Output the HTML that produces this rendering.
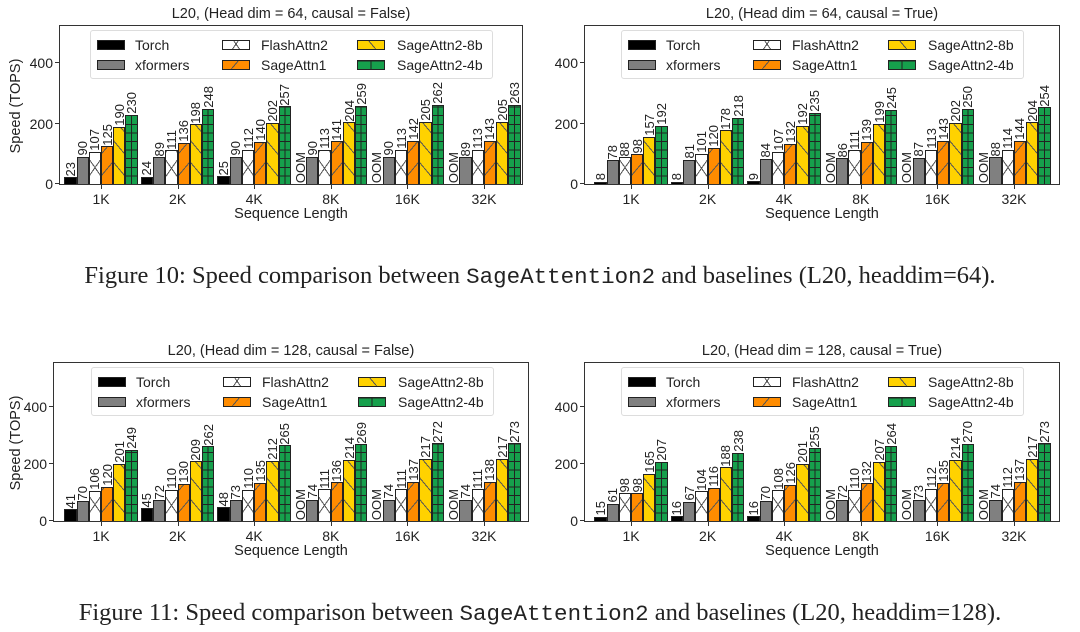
<!DOCTYPE html>
<html><head><meta charset="utf-8"><style>
body{margin:0;width:1080px;height:632px;background:#fff;position:relative;overflow:hidden;font-family:"Liberation Sans","DejaVu Sans",sans-serif;color:#222}
.ax{position:absolute;height:160px;border:1px solid #333;box-sizing:border-box}
.ttl{position:absolute;top:-20px;left:0;right:0;text-align:center;font-size:14.5px;white-space:nowrap}
.grp{position:absolute;bottom:0;display:flex;align-items:flex-end}
.g{width:73.4px;margin-right:3.2px;display:flex;align-items:flex-end;flex:none}
.b{width:12.23px;display:flex;flex-direction:column;align-items:center;justify-content:flex-end;flex:none}
.l{writing-mode:vertical-rl;transform:rotate(180deg);font-size:13px;line-height:13px;margin-bottom:1px;white-space:nowrap}
.bar{width:12.23px;box-sizing:border-box;border:1.4px solid #222;border-bottom:none}
.t0{background:#000}
.t1{background:#808080}
.t2{background:repeating-linear-gradient(55deg,transparent 0 13px,#555 13px 14px),repeating-linear-gradient(-55deg,transparent 0 13px,#555 13px 14px),#fff}
.t3{background:repeating-linear-gradient(-50deg,transparent 0 13px,#555 13px 14px),#ff8c00}
.t4{background:repeating-linear-gradient(50deg,transparent 0 13px,#555 13px 14px),#ffd200}
.t5{background:linear-gradient(90deg,transparent calc(50% - .6px),#222 calc(50% - .6px),#222 calc(50% + .6px),transparent calc(50% + .6px)),repeating-linear-gradient(0deg,transparent 0 7.6px,#222 7.6px 8.6px),#16a04c}
.lp.t2,.lp.t3,.lp.t4{background-size:auto}
.yt{position:absolute;left:-5px;width:5px;border-top:1px solid #333}
.ytl{position:absolute;right:calc(100% + 7px);font-size:14px;transform:translateY(50%);line-height:14px}
.xt{position:absolute;top:159px;height:4px;border-left:1px solid #333}
.xtl{position:absolute;top:165px;font-size:14px;transform:translateX(-50%);white-space:nowrap}
.xl{position:absolute;top:180px;left:0;right:0;text-align:center;font-size:14.5px}
.yl{position:absolute;top:72px;font-size:14.5px;transform:rotate(-90deg);transform-origin:center;white-space:nowrap;width:110px;text-align:center;line-height:16px}
.leg{position:absolute;top:4px;width:403px;height:49px;border:1px solid #ddd;border-radius:3px;background:rgba(255,255,255,.85);box-sizing:border-box}
.lp{position:absolute;width:28px;height:10px;box-sizing:border-box;border:1.4px solid #222}
.lt{position:absolute;font-size:14px;line-height:14px}
.cap{position:absolute;left:0;right:0;text-align:center;font-family:"Liberation Serif","DejaVu Serif",serif;font-size:24.5px;line-height:28px;color:#222;white-space:nowrap}
.cap code{font-family:"Liberation Mono",monospace;font-size:22.5px}
</style></head><body>

<!-- TL -->
<div class="ax" style="left:59px;top:25px;width:464px;--k:0.302px">
<div class="ttl">L20, (Head dim = 64, causal = False)</div>
<div class="yl" style="left:-99px">Speed (TOPS)</div>
<div class="yt" style="bottom:0"></div><div class="ytl" style="bottom:0">0</div>
<div class="yt" style="bottom:calc(var(--k)*200)"></div><div class="ytl" style="bottom:calc(var(--k)*200)">200</div>
<div class="yt" style="bottom:calc(var(--k)*400)"></div><div class="ytl" style="bottom:calc(var(--k)*400)">400</div>
<div class="leg" style="left:30px">
<div class="lp t0" style="left:6px;top:9px"></div><div class="lt" style="left:44px;top:7px">Torch</div>
<div class="lp t1" style="left:6px;top:29px"></div><div class="lt" style="left:44px;top:27px">xformers</div>
<div class="lp t2" style="left:131px;top:9px"></div><div class="lt" style="left:170px;top:7px">FlashAttn2</div>
<div class="lp t3" style="left:131px;top:29px"></div><div class="lt" style="left:170px;top:27px">SageAttn1</div>
<div class="lp t4" style="left:266px;top:9px"></div><div class="lt" style="left:306px;top:7px">SageAttn2-8b</div>
<div class="lp t5" style="left:266px;top:29px"></div><div class="lt" style="left:306px;top:27px">SageAttn2-4b</div>
</div>
<div class="grp" style="left:4.3px">
<div class="g"><div class="b"><span class="l">23</span><div class="bar t0" style="height:calc(var(--k)*23)"></div></div><div class="b"><span class="l">90</span><div class="bar t1" style="height:calc(var(--k)*90)"></div></div><div class="b"><span class="l">107</span><div class="bar t2" style="height:calc(var(--k)*107)"></div></div><div class="b"><span class="l">125</span><div class="bar t3" style="height:calc(var(--k)*125)"></div></div><div class="b"><span class="l">190</span><div class="bar t4" style="height:calc(var(--k)*190)"></div></div><div class="b"><span class="l">230</span><div class="bar t5" style="height:calc(var(--k)*230)"></div></div></div>
<div class="g"><div class="b"><span class="l">24</span><div class="bar t0" style="height:calc(var(--k)*24)"></div></div><div class="b"><span class="l">89</span><div class="bar t1" style="height:calc(var(--k)*89)"></div></div><div class="b"><span class="l">111</span><div class="bar t2" style="height:calc(var(--k)*111)"></div></div><div class="b"><span class="l">136</span><div class="bar t3" style="height:calc(var(--k)*136)"></div></div><div class="b"><span class="l">198</span><div class="bar t4" style="height:calc(var(--k)*198)"></div></div><div class="b"><span class="l">248</span><div class="bar t5" style="height:calc(var(--k)*248)"></div></div></div>
<div class="g"><div class="b"><span class="l">25</span><div class="bar t0" style="height:calc(var(--k)*25)"></div></div><div class="b"><span class="l">90</span><div class="bar t1" style="height:calc(var(--k)*90)"></div></div><div class="b"><span class="l">112</span><div class="bar t2" style="height:calc(var(--k)*112)"></div></div><div class="b"><span class="l">140</span><div class="bar t3" style="height:calc(var(--k)*140)"></div></div><div class="b"><span class="l">202</span><div class="bar t4" style="height:calc(var(--k)*202)"></div></div><div class="b"><span class="l">257</span><div class="bar t5" style="height:calc(var(--k)*257)"></div></div></div>
<div class="g"><div class="b"><span class="l">OOM</span></div><div class="b"><span class="l">90</span><div class="bar t1" style="height:calc(var(--k)*90)"></div></div><div class="b"><span class="l">113</span><div class="bar t2" style="height:calc(var(--k)*113)"></div></div><div class="b"><span class="l">141</span><div class="bar t3" style="height:calc(var(--k)*141)"></div></div><div class="b"><span class="l">204</span><div class="bar t4" style="height:calc(var(--k)*204)"></div></div><div class="b"><span class="l">259</span><div class="bar t5" style="height:calc(var(--k)*259)"></div></div></div>
<div class="g"><div class="b"><span class="l">OOM</span></div><div class="b"><span class="l">90</span><div class="bar t1" style="height:calc(var(--k)*90)"></div></div><div class="b"><span class="l">113</span><div class="bar t2" style="height:calc(var(--k)*113)"></div></div><div class="b"><span class="l">142</span><div class="bar t3" style="height:calc(var(--k)*142)"></div></div><div class="b"><span class="l">205</span><div class="bar t4" style="height:calc(var(--k)*205)"></div></div><div class="b"><span class="l">262</span><div class="bar t5" style="height:calc(var(--k)*262)"></div></div></div>
<div class="g"><div class="b"><span class="l">OOM</span></div><div class="b"><span class="l">89</span><div class="bar t1" style="height:calc(var(--k)*89)"></div></div><div class="b"><span class="l">113</span><div class="bar t2" style="height:calc(var(--k)*113)"></div></div><div class="b"><span class="l">143</span><div class="bar t3" style="height:calc(var(--k)*143)"></div></div><div class="b"><span class="l">205</span><div class="bar t4" style="height:calc(var(--k)*205)"></div></div><div class="b"><span class="l">263</span><div class="bar t5" style="height:calc(var(--k)*263)"></div></div></div>
</div>
<div class="xt" style="left:41px"></div><div class="xtl" style="left:41px">1K</div>
<div class="xt" style="left:117.6px"></div><div class="xtl" style="left:117.6px">2K</div>
<div class="xt" style="left:194.2px"></div><div class="xtl" style="left:194.2px">4K</div>
<div class="xt" style="left:270.8px"></div><div class="xtl" style="left:270.8px">8K</div>
<div class="xt" style="left:347.4px"></div><div class="xtl" style="left:347.4px">16K</div>
<div class="xt" style="left:424px"></div><div class="xtl" style="left:424px">32K</div>
<div class="xl">Sequence Length</div>
</div>

<!-- TR -->
<div class="ax" style="left:584px;top:25px;width:476px;--k:0.302px">
<div class="ttl">L20, (Head dim = 64, causal = True)</div>
<div class="yt" style="bottom:0"></div><div class="ytl" style="bottom:0">0</div>
<div class="yt" style="bottom:calc(var(--k)*200)"></div><div class="ytl" style="bottom:calc(var(--k)*200)">200</div>
<div class="yt" style="bottom:calc(var(--k)*400)"></div><div class="ytl" style="bottom:calc(var(--k)*400)">400</div>
<div class="leg" style="left:36px">
<div class="lp t0" style="left:6px;top:9px"></div><div class="lt" style="left:44px;top:7px">Torch</div>
<div class="lp t1" style="left:6px;top:29px"></div><div class="lt" style="left:44px;top:27px">xformers</div>
<div class="lp t2" style="left:131px;top:9px"></div><div class="lt" style="left:170px;top:7px">FlashAttn2</div>
<div class="lp t3" style="left:131px;top:29px"></div><div class="lt" style="left:170px;top:27px">SageAttn1</div>
<div class="lp t4" style="left:266px;top:9px"></div><div class="lt" style="left:306px;top:7px">SageAttn2-8b</div>
<div class="lp t5" style="left:266px;top:29px"></div><div class="lt" style="left:306px;top:27px">SageAttn2-4b</div>
</div>
<div class="grp" style="left:9.3px">
<div class="g"><div class="b"><span class="l">8</span><div class="bar t0" style="height:calc(var(--k)*8)"></div></div><div class="b"><span class="l">78</span><div class="bar t1" style="height:calc(var(--k)*78)"></div></div><div class="b"><span class="l">88</span><div class="bar t2" style="height:calc(var(--k)*88)"></div></div><div class="b"><span class="l">98</span><div class="bar t3" style="height:calc(var(--k)*98)"></div></div><div class="b"><span class="l">157</span><div class="bar t4" style="height:calc(var(--k)*157)"></div></div><div class="b"><span class="l">192</span><div class="bar t5" style="height:calc(var(--k)*192)"></div></div></div>
<div class="g"><div class="b"><span class="l">8</span><div class="bar t0" style="height:calc(var(--k)*8)"></div></div><div class="b"><span class="l">81</span><div class="bar t1" style="height:calc(var(--k)*81)"></div></div><div class="b"><span class="l">101</span><div class="bar t2" style="height:calc(var(--k)*101)"></div></div><div class="b"><span class="l">120</span><div class="bar t3" style="height:calc(var(--k)*120)"></div></div><div class="b"><span class="l">178</span><div class="bar t4" style="height:calc(var(--k)*178)"></div></div><div class="b"><span class="l">218</span><div class="bar t5" style="height:calc(var(--k)*218)"></div></div></div>
<div class="g"><div class="b"><span class="l">9</span><div class="bar t0" style="height:calc(var(--k)*9)"></div></div><div class="b"><span class="l">84</span><div class="bar t1" style="height:calc(var(--k)*84)"></div></div><div class="b"><span class="l">107</span><div class="bar t2" style="height:calc(var(--k)*107)"></div></div><div class="b"><span class="l">132</span><div class="bar t3" style="height:calc(var(--k)*132)"></div></div><div class="b"><span class="l">192</span><div class="bar t4" style="height:calc(var(--k)*192)"></div></div><div class="b"><span class="l">235</span><div class="bar t5" style="height:calc(var(--k)*235)"></div></div></div>
<div class="g"><div class="b"><span class="l">OOM</span></div><div class="b"><span class="l">86</span><div class="bar t1" style="height:calc(var(--k)*86)"></div></div><div class="b"><span class="l">111</span><div class="bar t2" style="height:calc(var(--k)*111)"></div></div><div class="b"><span class="l">139</span><div class="bar t3" style="height:calc(var(--k)*139)"></div></div><div class="b"><span class="l">199</span><div class="bar t4" style="height:calc(var(--k)*199)"></div></div><div class="b"><span class="l">245</span><div class="bar t5" style="height:calc(var(--k)*245)"></div></div></div>
<div class="g"><div class="b"><span class="l">OOM</span></div><div class="b"><span class="l">87</span><div class="bar t1" style="height:calc(var(--k)*87)"></div></div><div class="b"><span class="l">113</span><div class="bar t2" style="height:calc(var(--k)*113)"></div></div><div class="b"><span class="l">143</span><div class="bar t3" style="height:calc(var(--k)*143)"></div></div><div class="b"><span class="l">202</span><div class="bar t4" style="height:calc(var(--k)*202)"></div></div><div class="b"><span class="l">250</span><div class="bar t5" style="height:calc(var(--k)*250)"></div></div></div>
<div class="g"><div class="b"><span class="l">OOM</span></div><div class="b"><span class="l">88</span><div class="bar t1" style="height:calc(var(--k)*88)"></div></div><div class="b"><span class="l">114</span><div class="bar t2" style="height:calc(var(--k)*114)"></div></div><div class="b"><span class="l">144</span><div class="bar t3" style="height:calc(var(--k)*144)"></div></div><div class="b"><span class="l">204</span><div class="bar t4" style="height:calc(var(--k)*204)"></div></div><div class="b"><span class="l">254</span><div class="bar t5" style="height:calc(var(--k)*254)"></div></div></div>
</div>
<div class="xt" style="left:46px"></div><div class="xtl" style="left:46px">1K</div>
<div class="xt" style="left:122.6px"></div><div class="xtl" style="left:122.6px">2K</div>
<div class="xt" style="left:199.2px"></div><div class="xtl" style="left:199.2px">4K</div>
<div class="xt" style="left:275.8px"></div><div class="xtl" style="left:275.8px">8K</div>
<div class="xt" style="left:352.4px"></div><div class="xtl" style="left:352.4px">16K</div>
<div class="xt" style="left:429px"></div><div class="xtl" style="left:429px">32K</div>
<div class="xl">Sequence Length</div>
</div>

<div class="cap" style="top:262px">Figure 10: Speed comparison between <code>SageAttention2</code> and baselines (L20, headdim=64).</div>

<!-- BL -->
<div class="ax" style="left:53px;top:362px;width:476px;--k:0.285px">
<div class="ttl">L20, (Head dim = 128, causal = False)</div>
<div class="yl" style="left:-93px">Speed (TOPS)</div>
<div class="yt" style="bottom:0"></div><div class="ytl" style="bottom:0">0</div>
<div class="yt" style="bottom:calc(var(--k)*200)"></div><div class="ytl" style="bottom:calc(var(--k)*200)">200</div>
<div class="yt" style="bottom:calc(var(--k)*400)"></div><div class="ytl" style="bottom:calc(var(--k)*400)">400</div>
<div class="leg" style="left:37px">
<div class="lp t0" style="left:6px;top:9px"></div><div class="lt" style="left:44px;top:7px">Torch</div>
<div class="lp t1" style="left:6px;top:29px"></div><div class="lt" style="left:44px;top:27px">xformers</div>
<div class="lp t2" style="left:131px;top:9px"></div><div class="lt" style="left:170px;top:7px">FlashAttn2</div>
<div class="lp t3" style="left:131px;top:29px"></div><div class="lt" style="left:170px;top:27px">SageAttn1</div>
<div class="lp t4" style="left:266px;top:9px"></div><div class="lt" style="left:306px;top:7px">SageAttn2-8b</div>
<div class="lp t5" style="left:266px;top:29px"></div><div class="lt" style="left:306px;top:27px">SageAttn2-4b</div>
</div>
<div class="grp" style="left:10.3px">
<div class="g"><div class="b"><span class="l">41</span><div class="bar t0" style="height:calc(var(--k)*41)"></div></div><div class="b"><span class="l">70</span><div class="bar t1" style="height:calc(var(--k)*70)"></div></div><div class="b"><span class="l">106</span><div class="bar t2" style="height:calc(var(--k)*106)"></div></div><div class="b"><span class="l">120</span><div class="bar t3" style="height:calc(var(--k)*120)"></div></div><div class="b"><span class="l">201</span><div class="bar t4" style="height:calc(var(--k)*201)"></div></div><div class="b"><span class="l">249</span><div class="bar t5" style="height:calc(var(--k)*249)"></div></div></div>
<div class="g"><div class="b"><span class="l">45</span><div class="bar t0" style="height:calc(var(--k)*45)"></div></div><div class="b"><span class="l">72</span><div class="bar t1" style="height:calc(var(--k)*72)"></div></div><div class="b"><span class="l">110</span><div class="bar t2" style="height:calc(var(--k)*110)"></div></div><div class="b"><span class="l">130</span><div class="bar t3" style="height:calc(var(--k)*130)"></div></div><div class="b"><span class="l">209</span><div class="bar t4" style="height:calc(var(--k)*209)"></div></div><div class="b"><span class="l">262</span><div class="bar t5" style="height:calc(var(--k)*262)"></div></div></div>
<div class="g"><div class="b"><span class="l">48</span><div class="bar t0" style="height:calc(var(--k)*48)"></div></div><div class="b"><span class="l">73</span><div class="bar t1" style="height:calc(var(--k)*73)"></div></div><div class="b"><span class="l">110</span><div class="bar t2" style="height:calc(var(--k)*110)"></div></div><div class="b"><span class="l">135</span><div class="bar t3" style="height:calc(var(--k)*135)"></div></div><div class="b"><span class="l">212</span><div class="bar t4" style="height:calc(var(--k)*212)"></div></div><div class="b"><span class="l">265</span><div class="bar t5" style="height:calc(var(--k)*265)"></div></div></div>
<div class="g"><div class="b"><span class="l">OOM</span></div><div class="b"><span class="l">74</span><div class="bar t1" style="height:calc(var(--k)*74)"></div></div><div class="b"><span class="l">111</span><div class="bar t2" style="height:calc(var(--k)*111)"></div></div><div class="b"><span class="l">136</span><div class="bar t3" style="height:calc(var(--k)*136)"></div></div><div class="b"><span class="l">214</span><div class="bar t4" style="height:calc(var(--k)*214)"></div></div><div class="b"><span class="l">269</span><div class="bar t5" style="height:calc(var(--k)*269)"></div></div></div>
<div class="g"><div class="b"><span class="l">OOM</span></div><div class="b"><span class="l">74</span><div class="bar t1" style="height:calc(var(--k)*74)"></div></div><div class="b"><span class="l">111</span><div class="bar t2" style="height:calc(var(--k)*111)"></div></div><div class="b"><span class="l">137</span><div class="bar t3" style="height:calc(var(--k)*137)"></div></div><div class="b"><span class="l">217</span><div class="bar t4" style="height:calc(var(--k)*217)"></div></div><div class="b"><span class="l">272</span><div class="bar t5" style="height:calc(var(--k)*272)"></div></div></div>
<div class="g"><div class="b"><span class="l">OOM</span></div><div class="b"><span class="l">74</span><div class="bar t1" style="height:calc(var(--k)*74)"></div></div><div class="b"><span class="l">111</span><div class="bar t2" style="height:calc(var(--k)*111)"></div></div><div class="b"><span class="l">138</span><div class="bar t3" style="height:calc(var(--k)*138)"></div></div><div class="b"><span class="l">217</span><div class="bar t4" style="height:calc(var(--k)*217)"></div></div><div class="b"><span class="l">273</span><div class="bar t5" style="height:calc(var(--k)*273)"></div></div></div>
</div>
<div class="xt" style="left:47px"></div><div class="xtl" style="left:47px">1K</div>
<div class="xt" style="left:123.6px"></div><div class="xtl" style="left:123.6px">2K</div>
<div class="xt" style="left:200.2px"></div><div class="xtl" style="left:200.2px">4K</div>
<div class="xt" style="left:276.8px"></div><div class="xtl" style="left:276.8px">8K</div>
<div class="xt" style="left:353.4px"></div><div class="xtl" style="left:353.4px">16K</div>
<div class="xt" style="left:430px"></div><div class="xtl" style="left:430px">32K</div>
<div class="xl">Sequence Length</div>
</div>

<!-- BR -->
<div class="ax" style="left:584px;top:362px;width:476px;--k:0.285px">
<div class="ttl">L20, (Head dim = 128, causal = True)</div>
<div class="yt" style="bottom:0"></div><div class="ytl" style="bottom:0">0</div>
<div class="yt" style="bottom:calc(var(--k)*200)"></div><div class="ytl" style="bottom:calc(var(--k)*200)">200</div>
<div class="yt" style="bottom:calc(var(--k)*400)"></div><div class="ytl" style="bottom:calc(var(--k)*400)">400</div>
<div class="leg" style="left:36px">
<div class="lp t0" style="left:6px;top:9px"></div><div class="lt" style="left:44px;top:7px">Torch</div>
<div class="lp t1" style="left:6px;top:29px"></div><div class="lt" style="left:44px;top:27px">xformers</div>
<div class="lp t2" style="left:131px;top:9px"></div><div class="lt" style="left:170px;top:7px">FlashAttn2</div>
<div class="lp t3" style="left:131px;top:29px"></div><div class="lt" style="left:170px;top:27px">SageAttn1</div>
<div class="lp t4" style="left:266px;top:9px"></div><div class="lt" style="left:306px;top:7px">SageAttn2-8b</div>
<div class="lp t5" style="left:266px;top:29px"></div><div class="lt" style="left:306px;top:27px">SageAttn2-4b</div>
</div>
<div class="grp" style="left:9.3px">
<div class="g"><div class="b"><span class="l">15</span><div class="bar t0" style="height:calc(var(--k)*15)"></div></div><div class="b"><span class="l">61</span><div class="bar t1" style="height:calc(var(--k)*61)"></div></div><div class="b"><span class="l">98</span><div class="bar t2" style="height:calc(var(--k)*98)"></div></div><div class="b"><span class="l">98</span><div class="bar t3" style="height:calc(var(--k)*98)"></div></div><div class="b"><span class="l">165</span><div class="bar t4" style="height:calc(var(--k)*165)"></div></div><div class="b"><span class="l">207</span><div class="bar t5" style="height:calc(var(--k)*207)"></div></div></div>
<div class="g"><div class="b"><span class="l">16</span><div class="bar t0" style="height:calc(var(--k)*16)"></div></div><div class="b"><span class="l">67</span><div class="bar t1" style="height:calc(var(--k)*67)"></div></div><div class="b"><span class="l">104</span><div class="bar t2" style="height:calc(var(--k)*104)"></div></div><div class="b"><span class="l">116</span><div class="bar t3" style="height:calc(var(--k)*116)"></div></div><div class="b"><span class="l">188</span><div class="bar t4" style="height:calc(var(--k)*188)"></div></div><div class="b"><span class="l">238</span><div class="bar t5" style="height:calc(var(--k)*238)"></div></div></div>
<div class="g"><div class="b"><span class="l">16</span><div class="bar t0" style="height:calc(var(--k)*16)"></div></div><div class="b"><span class="l">70</span><div class="bar t1" style="height:calc(var(--k)*70)"></div></div><div class="b"><span class="l">108</span><div class="bar t2" style="height:calc(var(--k)*108)"></div></div><div class="b"><span class="l">126</span><div class="bar t3" style="height:calc(var(--k)*126)"></div></div><div class="b"><span class="l">201</span><div class="bar t4" style="height:calc(var(--k)*201)"></div></div><div class="b"><span class="l">255</span><div class="bar t5" style="height:calc(var(--k)*255)"></div></div></div>
<div class="g"><div class="b"><span class="l">OOM</span></div><div class="b"><span class="l">72</span><div class="bar t1" style="height:calc(var(--k)*72)"></div></div><div class="b"><span class="l">110</span><div class="bar t2" style="height:calc(var(--k)*110)"></div></div><div class="b"><span class="l">132</span><div class="bar t3" style="height:calc(var(--k)*132)"></div></div><div class="b"><span class="l">207</span><div class="bar t4" style="height:calc(var(--k)*207)"></div></div><div class="b"><span class="l">264</span><div class="bar t5" style="height:calc(var(--k)*264)"></div></div></div>
<div class="g"><div class="b"><span class="l">OOM</span></div><div class="b"><span class="l">73</span><div class="bar t1" style="height:calc(var(--k)*73)"></div></div><div class="b"><span class="l">112</span><div class="bar t2" style="height:calc(var(--k)*112)"></div></div><div class="b"><span class="l">135</span><div class="bar t3" style="height:calc(var(--k)*135)"></div></div><div class="b"><span class="l">214</span><div class="bar t4" style="height:calc(var(--k)*214)"></div></div><div class="b"><span class="l">270</span><div class="bar t5" style="height:calc(var(--k)*270)"></div></div></div>
<div class="g"><div class="b"><span class="l">OOM</span></div><div class="b"><span class="l">74</span><div class="bar t1" style="height:calc(var(--k)*74)"></div></div><div class="b"><span class="l">112</span><div class="bar t2" style="height:calc(var(--k)*112)"></div></div><div class="b"><span class="l">137</span><div class="bar t3" style="height:calc(var(--k)*137)"></div></div><div class="b"><span class="l">217</span><div class="bar t4" style="height:calc(var(--k)*217)"></div></div><div class="b"><span class="l">273</span><div class="bar t5" style="height:calc(var(--k)*273)"></div></div></div>
</div>
<div class="xt" style="left:46px"></div><div class="xtl" style="left:46px">1K</div>
<div class="xt" style="left:122.6px"></div><div class="xtl" style="left:122.6px">2K</div>
<div class="xt" style="left:199.2px"></div><div class="xtl" style="left:199.2px">4K</div>
<div class="xt" style="left:275.8px"></div><div class="xtl" style="left:275.8px">8K</div>
<div class="xt" style="left:352.4px"></div><div class="xtl" style="left:352.4px">16K</div>
<div class="xt" style="left:429px"></div><div class="xtl" style="left:429px">32K</div>
<div class="xl">Sequence Length</div>
</div>

<div class="cap" style="top:599px">Figure 11: Speed comparison between <code>SageAttention2</code> and baselines (L20, headdim=128).</div>
</body></html>
